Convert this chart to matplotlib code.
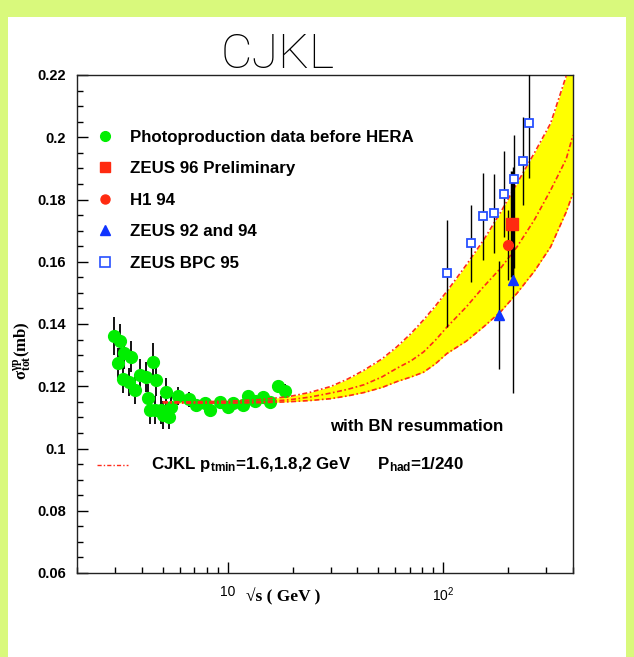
import numpy as np
import matplotlib
matplotlib.use("Agg")
import matplotlib.pyplot as plt
from matplotlib.lines import Line2D
from matplotlib.patches import Rectangle
from matplotlib.ticker import FixedLocator, NullFormatter, FuncFormatter

plt.rcParams['font.family'] = ['Liberation Sans', 'DejaVu Sans']
plt.rcParams['mathtext.default'] = 'regular'

# photoproduction data before HERA: sqrt(s) [GeV], sigma [mb], error
pp_s = [2.98, 3.09, 3.15, 3.26, 3.32, 3.47, 3.57, 3.73, 3.90, 4.19, 4.26, 4.34,
        4.50, 4.58, 4.66, 4.92, 5.00, 5.19, 5.37, 5.47, 5.87, 6.61, 7.15, 7.82,
        8.24, 9.18, 10.0, 10.6, 11.8, 12.4, 13.4, 14.6, 15.7, 17.1, 18.4]
pp_sig = [0.1361, 0.1274, 0.1346, 0.1222, 0.1306, 0.1215, 0.1295, 0.1188, 0.1236,
          0.1231, 0.1161, 0.1124, 0.1279, 0.1124, 0.1220, 0.1124, 0.1108, 0.1182,
          0.1102, 0.1134, 0.1169, 0.1158, 0.1140, 0.1147, 0.1124, 0.1150, 0.1134,
          0.1145, 0.1140, 0.1168, 0.1153, 0.1166, 0.1150, 0.1200, 0.1186]
pp_err = [0.0062, 0.0050, 0.0055, 0.0045, 0.0050, 0.0045, 0.0050, 0.0045, 0.0050,
          0.0048, 0.0045, 0.0045, 0.0060, 0.0045, 0.0050, 0.0045, 0.0045, 0.0045,
          0.0040, 0.0040, 0.0030, 0.0025, 0.0020, 0.0020, 0.0020, 0.0020, 0.0020,
          0.0020, 0.0020, 0.0020, 0.0020, 0.0020, 0.0020, 0.0020, 0.0020]

# HERA points
z96_s, z96_sig, z96_err = [208.5], [0.172], [0.017]
h1_s, h1_sig, h1_err = [199.5], [0.1654], [0.0112]
z94_s = [180.7, 210.8]
z94_sig = [0.1429, 0.1541]
z94_err = [0.0174, 0.0362]
bpc_s = [104, 134.6, 153, 172.7, 191, 212.5, 235, 250.5]
bpc_sig = [0.1563, 0.1661, 0.1747, 0.1756, 0.1817, 0.1866, 0.1924, 0.2047]
bpc_lo = [0.1391, 0.1536, 0.1606, 0.1627, 0.1680, 0.1580, 0.1782, 0.1868]
bpc_hi = [0.1734, 0.1782, 0.1884, 0.1881, 0.1957, 0.2007, 0.2066, 0.2250]

# CJKL curves for ptmin = 1.6, 1.8, 2 GeV
cjkl_s = [5, 7, 10, 14, 19, 24, 30, 36, 43, 52, 61, 71, 81, 92, 104, 128, 154, 185,
          220, 265, 315, 372, 400]
cjkl_16 = [0.1150, 0.1150, 0.1152, 0.1157, 0.1166, 0.1180, 0.1199, 0.1223, 0.1252,
           0.1288, 0.1327, 0.1370, 0.1413, 0.1458, 0.1505, 0.1590, 0.1670, 0.1760,
           0.1852, 0.1950, 0.2045, 0.2197, 0.2265]
cjkl_18 = [0.1148, 0.1147, 0.1148, 0.1150, 0.1156, 0.1165, 0.1178, 0.1190, 0.1205,
           0.1230, 0.1258, 0.1282, 0.1310, 0.1348, 0.1390, 0.1455, 0.1520, 0.1580,
           0.1648, 0.1735, 0.1830, 0.1930, 0.2007]
cjkl_20 = [0.1147, 0.1146, 0.1146, 0.1147, 0.1150, 0.1154, 0.1160, 0.1169, 0.1180,
           0.1196, 0.1215, 0.1230, 0.1245, 0.1272, 0.1305, 0.1345, 0.1391, 0.1440,
           0.1499, 0.1570, 0.1648, 0.1760, 0.1820]

y_ticks = [0.06, 0.08, 0.1, 0.12, 0.14, 0.16, 0.18, 0.2, 0.22]

green = '#00ee00'
red = '#ff2a10'
blue = '#1034ff'
band_line = '#ff2a1a'
dashdot = (0, (3, 1.5, 1, 1.5))

fig = plt.figure(figsize=(6.34, 6.57), dpi=100)
fig.patch.set_facecolor('white')
frame = '#d9f97c'
fig.add_artist(Rectangle((0, 0), 8 / 634, 1, transform=fig.transFigure, color=frame, lw=0))
fig.add_artist(Rectangle((0, 1 - 17 / 657), 1, 17 / 657, transform=fig.transFigure, color=frame, lw=0))
fig.add_artist(Rectangle((1 - 8 / 634, 0), 8 / 634, 1, transform=fig.transFigure, color=frame, lw=0))

ax = fig.add_axes([77 / 634, 1 - 573 / 657, 496 / 634, 498 / 657])
ax.set_xscale('log')
ax.set_xlim(2, 400)
ax.set_ylim(0.06, 0.22)

# theory band
ax.fill_between(cjkl_s, cjkl_20, cjkl_16, color='#ffff00', lw=0, zorder=1)
for c in (cjkl_16, cjkl_18, cjkl_20):
    ax.plot(cjkl_s, c, color=band_line, lw=1.2, ls=dashdot, zorder=4)

ax.errorbar(pp_s, pp_sig, yerr=pp_err, fmt='none', ecolor='black', elinewidth=1.3,
            capsize=0, zorder=2)
ax.plot(pp_s, pp_sig, 'o', color=green, ms=8.5, mec=green, zorder=3)

bpc_err = [np.subtract(bpc_sig, bpc_lo), np.subtract(bpc_hi, bpc_sig)]
ax.errorbar(bpc_s, bpc_sig, yerr=bpc_err, fmt='none', ecolor='black', elinewidth=1.0, capsize=0, zorder=5)
ax.errorbar(z94_s, z94_sig, yerr=z94_err, fmt='none', ecolor='black', elinewidth=1.0, capsize=0, zorder=5)
ax.errorbar(h1_s, h1_sig, yerr=h1_err, fmt='none', ecolor='black', elinewidth=1.0, capsize=0, zorder=5)
ax.errorbar(z96_s, z96_sig, yerr=z96_err, fmt='none', ecolor='black', elinewidth=2.5, capsize=0, zorder=5)

ax.plot(bpc_s, bpc_sig, 's', mfc='white', mec='#2850ff', mew=1.3, ms=5.5, zorder=6)
ax.plot(z94_s, z94_sig, '^', color=blue, ms=7.5, zorder=6)
ax.plot(h1_s, h1_sig, 'o', color=red, ms=7, zorder=6)
ax.plot(z96_s, z96_sig, 's', color=red, ms=8, zorder=6)

# axes styling
for sp in ax.spines.values():
    sp.set_linewidth(1.0)
    sp.set_color('#222222')
ax.tick_params(which='both', direction='in', top=False, right=False, width=1.0)
ax.tick_params(which='major', length=8)
ax.tick_params(which='minor', length=4)
ax.yaxis.set_major_locator(FixedLocator(y_ticks))
ax.yaxis.set_minor_locator(FixedLocator(np.arange(0.06, 0.2201, 0.005)))
ax.set_yticklabels([f'{v:g}' for v in y_ticks], fontweight='bold', fontsize=10.5)
ax.xaxis.set_major_formatter(FuncFormatter(
    lambda v, p: '10' if abs(v - 10) < 1e-6 else (r'$10^{2}$' if abs(v - 100) < 1e-6 else '')))
ax.xaxis.set_minor_formatter(NullFormatter())
ax.tick_params(axis='x', pad=9, labelsize=10)
ax.tick_params(axis='y', pad=8)

ax.text(0.34, -0.03, '\u221as ( GeV )', transform=ax.transAxes, fontsize=12.5,
        family=['Liberation Serif', 'DejaVu Serif'], fontweight='bold', va='top', ha='left')
ax.text(-0.086, 0.446, r'$\sigma_{tot}^{\gamma p}$(mb)', transform=ax.transAxes, fontsize=12,
        family=['Liberation Serif', 'DejaVu Serif'], fontweight='bold', rotation=90,
        va='center', ha='right')

handles = [
    Line2D([], [], ls='none', marker='o', color=green, ms=7),
    Line2D([], [], ls='none', marker='s', color=red, ms=6.5),
    Line2D([], [], ls='none', marker='o', color=red, ms=6.5),
    Line2D([], [], ls='none', marker='^', color=blue, ms=6.5),
    Line2D([], [], ls='none', marker='s', mfc='white', mec='#2850ff', mew=1.2, ms=6.5),
]
labels = ['Photoproduction data before HERA', 'ZEUS 96 Preliminary', 'H1 94',
          'ZEUS 92 and 94', 'ZEUS BPC 95']
ax.legend(handles, labels, loc='upper left', bbox_to_anchor=(0.025, 0.907), frameon=False,
          prop={'weight': 'bold', 'size': 12.2}, handlelength=0.9, handletextpad=1.0,
          labelspacing=0.97, borderpad=0)

ax.text(0.51, 0.295, 'with BN resummation', transform=ax.transAxes, fontsize=12.2,
        fontweight='bold', va='center')
ax.plot([0.04, 0.103], [0.217, 0.217], transform=ax.transAxes, color=band_line, lw=1.0,
        ls=dashdot)
ax.text(0.15, 0.217, r'CJKL p$_{tmin}$=1.6,1.8,2 GeV      P$_{had}$=1/240',
        transform=ax.transAxes, fontsize=12.2, fontweight='bold', va='center')

fig.text(278 / 634, 1 - 68 / 657, 'CJKL', fontsize=35, family=['Roboto', 'DejaVu Sans'],
         fontweight='light', ha='center', va='baseline')

fig.savefig('out.png', dpi=100)
